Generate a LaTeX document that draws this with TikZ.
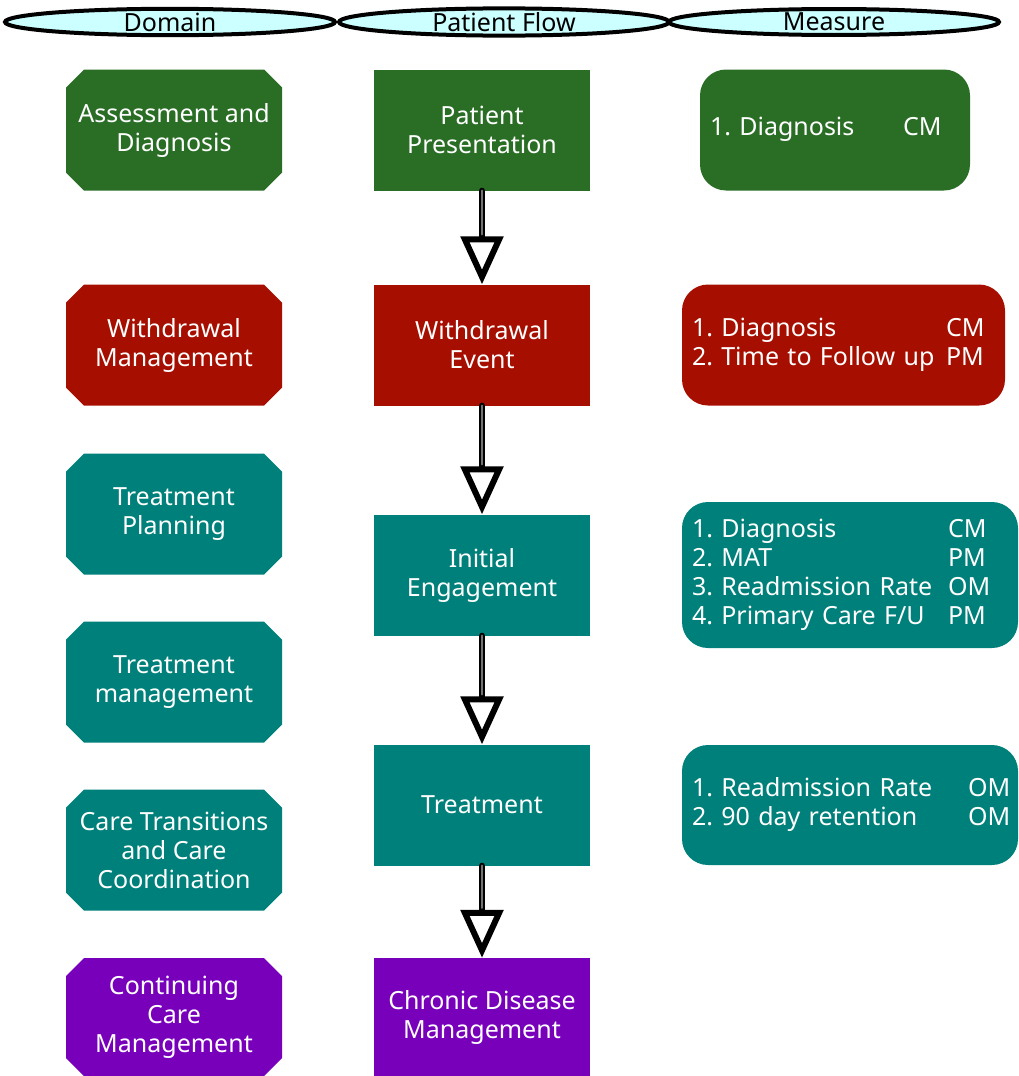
\documentclass[tikz,border=0pt]{standalone}
\usepackage{fontspec}
\usepackage{array}
\setmainfont{Noto Sans}
\usetikzlibrary{
        arrows.meta,
        positioning,
        shapes.geometric,
        shapes.misc
    }
\definecolor{domgreen}{RGB}{42,110,38}
\definecolor{domred}{RGB}{166,14,0}
\definecolor{domteal}{RGB}{0,128,122}
\definecolor{dompurple}{RGB}{120,0,186}
\definecolor{headcyan}{RGB}{204,255,255}
\tikzset{
    colhead/.style={ellipse,draw=black,line width=4pt,fill=headcyan,
        minimum width=330pt,minimum height=26pt,inner sep=0pt,
        font=\fontsize{25}{27}\selectfont},
    domain/.style={chamfered rectangle,chamfered rectangle xsep=9pt,
        chamfered rectangle ysep=9pt,fill=#1,text=white,align=center,
        minimum width=216pt,minimum height=121pt,inner sep=0pt,
        font=\fontsize{25}{29}\selectfont},
    stage/.style={rectangle,fill=#1,text=white,align=center,
        minimum width=216pt,minimum height=121pt,inner sep=0pt,
        font=\fontsize{25}{29}\selectfont},
    measure/.style={rectangle,rounded corners=26pt,fill=#1,text=white,
        inner xsep=10pt,inner ysep=0pt,align=left,
        font=\fontsize{25}{29}\selectfont\frenchspacing},
    flow/.style={draw=black,line width=6pt,line cap=round,
        -{Triangle[open,fill=white,length=48pt,width=42pt,line width=6pt]},
        postaction={draw=black!55,line width=2.5pt,-,shorten >=50pt}}
}
\begin{document}
\begin{tikzpicture}[x=1pt,y=-1pt]
                \useasboundingbox (0,0) rectangle (1018,1076);
                % column heads
                \node[colhead] (hdom)  at (170,22) {Domain};
                \node[colhead] (hflow) at (504,22) {Patient Flow};
                \node[colhead] (hmeas) at (834,22) {Measure};
                % domains
                \node[domain=domgreen]  (assess)   at (174,130)  {Assessment and\\Diagnosis};
                \node[domain=domred]    (withdraw) at (174,345)  {Withdrawal\\Management};
                \node[domain=domteal]   (tplan)    at (174,514)  {Treatment\\Planning};
                \node[domain=domteal]   (tmanage)  at (174,682)  {Treatment\\management};
                \node[domain=domteal]   (transit)  at (174,850)  {Care Transitions\\and Care\\Coordination};
                \node[domain=dompurple,minimum height=118pt] (contcare) at (174,1017) {Continuing\\Care\\Management};
                % patient flow
                \node[stage=domgreen]  (present) at (482,130) {Patient\\Presentation};
                \node[stage=domred]    (wevent)  at (482,345) {Withdrawal\\Event};
                \node[stage=domteal]   (engage)  at (482,575) {Initial\\Engagement};
                \node[stage=domteal]   (treat)   at (482,805) {Treatment};
                \node[stage=dompurple,minimum height=118pt] (chronic) at (482,1017) {Chronic Disease\\Management};
                % measures
                \node[measure=domgreen,text width=250pt,minimum height=121pt] (mone) at (835,130)
                    {\begin{tabular}{@{}w{l}{181pt}l@{}}1. Diagnosis & CM\end{tabular}};
                \node[measure=domred,text width=303pt,minimum height=121pt] (mtwo) at (843.5,345)
                    {\begin{tabular}{@{}w{l}{242pt}l@{}}1. Diagnosis & CM\\2. Time to Follow up & PM\end{tabular}};
                \node[measure=domteal,text width=316pt,minimum height=146pt] (mthree) at (850,575)
                    {\begin{tabular}{@{}w{l}{244pt}l@{}}1. Diagnosis & CM\\2. MAT & PM\\3. Readmission Rate & OM\\4. Primary Care F/U & PM\end{tabular}};
                \node[measure=domteal,text width=316pt,minimum height=120pt] (mfour) at (850,805)
                    {\begin{tabular}{@{}w{l}{264pt}l@{}}1. Readmission Rate & OM\\2. 90 day retention & OM\end{tabular}};
                \path
                    (present) edge[flow] (wevent)
                    (wevent)  edge[flow] (engage)
                    (engage)  edge[flow] (treat)
                    (treat)   edge[flow] (chronic)
                ;
            \end{tikzpicture}
\end{document}
